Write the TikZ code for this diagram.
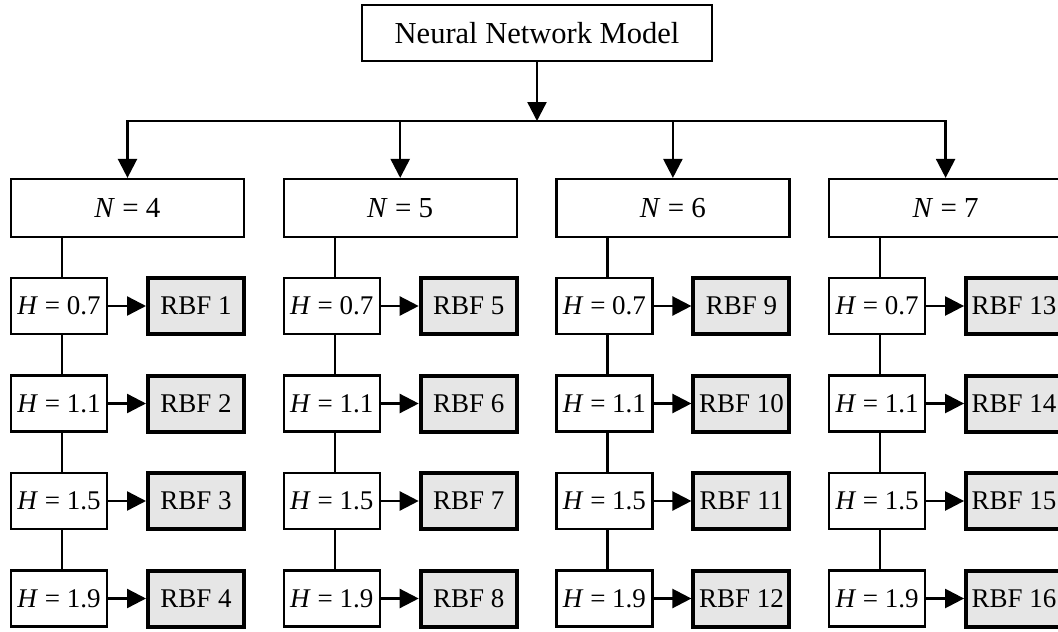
\documentclass[tikz,border=0pt]{standalone}
\usepackage{fontspec}
\setmainfont{Liberation Serif}
\usetikzlibrary{arrows.meta, positioning}
\definecolor{rbfgray}{HTML}{E6E6E6}
\tikzstyle{modelbox} = [draw, line width=2.2pt, minimum width=350pt, minimum height=56pt, font=\fontsize{30.5}{34}\selectfont]
\tikzstyle{nbox} = [draw, line width=2.2pt, minimum width=233pt, minimum height=58pt, font=\fontsize{29}{32}\selectfont]
\tikzstyle{hbox} = [draw, line width=2.2pt, minimum width=96pt, minimum height=56pt, inner sep=0pt, font=\fontsize{27}{30}\selectfont]
\tikzstyle{rbfbox} = [draw, line width=4pt, fill=rbfgray, minimum width=96pt, minimum height=56pt, inner sep=0pt, font=\fontsize{27}{30}\selectfont]
\tikzstyle{link} = [line width=2.4pt]
\tikzstyle{flow} = [link, -{Triangle[length=19pt,width=19pt]}]

\begin{document}
\begin{tikzpicture}[x=1pt, y=-1pt]
	\useasboundingbox (0,0) rectangle (1058,632);
	\node[modelbox] (model) at (537,33) {Neural Network Model};
	\coordinate (bus) at (537,121);
	\draw[flow] (model.south) -- (bus);
	\foreach \n [count=\c from 0] in {4,5,6,7} {
		\pgfmathsetmacro{\xl}{10+272.7*\c}
		\node[nbox] (n\n) at (\xl+117.5,208) {\textit{N} = \n};
		\draw[flow] (bus) -| (n\n.north);
		\foreach \h [count=\r from 0] in {0.7,1.1,1.5,1.9} {
			\pgfmathtruncatemacro{\k}{4*\c+\r+1}
			\pgfmathtruncatemacro{\p}{\k-1}
			\node[hbox] (h\k) at (\xl+49,306+97.5*\r) {\textit{H} = \h};
			\node[rbfbox] (rbf\k) at (\xl+186,306+97.5*\r) {RBF \k};
			\draw[flow] (h\k) -- (rbf\k);
			% chain of H boxes under each N box
			\ifnum\r=0
				\draw[link] ([xshift=3pt]h\k.north) -- ([xshift=3pt]h\k.north |- n\n.south);
			\else
				\draw[link] ([xshift=3pt]h\k.north) -- ([xshift=3pt]h\p.south);
			\fi
		}
	}
\end{tikzpicture}
\end{document}
